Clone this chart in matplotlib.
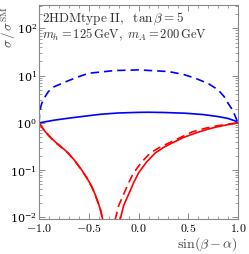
import numpy as np
import matplotlib.pyplot as plt
from matplotlib.ticker import LogLocator, MultipleLocator, NullFormatter, FuncFormatter

plt.rcParams['mathtext.fontset'] = 'cm'
plt.rcParams['font.family'] = 'serif'
plt.rcParams['font.serif'] = ['DejaVu Serif']

# blue: solid / dashed
x_bs = [-1.0, -0.85, -0.7, -0.5, -0.37, -0.2, 0.0, 0.1, 0.25, 0.47, 0.65, 0.8, 0.9, 0.97, 1.0]
y_bs = [1.0, 1.14, 1.26, 1.42, 1.53, 1.62, 1.67, 1.68, 1.66, 1.6, 1.5, 1.36, 1.24, 1.1, 1.0]

x_bd = [-1.0, -0.995, -0.985, -0.973, -0.95, -0.907, -0.85, -0.706, -0.6, -0.504, -0.24, 0.0,
        0.3, 0.45, 0.57, 0.7, 0.8, 0.86, 0.9, 0.95, 0.987, 1.0]
y_bd = [1.0, 1.6, 2.1, 2.6, 3.3, 4.6, 5.8, 7.8, 9.5, 11.2, 12.8, 13.2,
        12.2, 10.6, 8.8, 6.8, 5.0, 3.6, 2.6, 1.8, 1.15, 1.0]

# red solid: left and right branch
x_rsl = [-1.0, -0.97, -0.94, -0.89, -0.84, -0.77, -0.706, -0.64, -0.571, -0.52, -0.47, -0.435, -0.404, -0.38, -0.36]
y_rsl = [1.0, 0.81, 0.66, 0.51, 0.40, 0.302, 0.229, 0.158, 0.101, 0.069, 0.045, 0.030, 0.020, 0.0138, 0.0089]
x_rsr = [-0.186, -0.15, -0.103, -0.05, -0.002, 0.08, 0.166, 0.25, 0.334, 0.45, 0.568, 0.7, 0.8, 0.9, 1.0]
y_rsr = [0.0089, 0.0178, 0.030, 0.054, 0.0865, 0.148, 0.229, 0.302, 0.372, 0.49, 0.605, 0.74, 0.835, 0.92, 1.0]

# red dashed
x_rdl = [-1.0, -0.97, -0.94, -0.89, -0.84, -0.77, -0.706, -0.64, -0.571, -0.52, -0.47, -0.435, -0.404, -0.38, -0.36]
y_rdl = [1.0, 0.80, 0.65, 0.50, 0.39, 0.297, 0.226, 0.156, 0.099, 0.068, 0.044, 0.0295, 0.0197, 0.0136, 0.0088]
x_rdr = [-0.236, -0.2, -0.153, -0.1, -0.052, 0.03, 0.116, 0.21, 0.30, 0.42, 0.535, 0.67, 0.78, 0.9, 1.0]
y_rdr = [0.0089, 0.0178, 0.030, 0.054, 0.0865, 0.148, 0.229, 0.302, 0.372, 0.49, 0.64, 0.77, 0.86, 0.94, 1.0]

fig = plt.figure(figsize=(2.49, 2.54), dpi=100)
ax = fig.add_axes([0.157, 0.138, 0.799, 0.842])

dash = (0, (5, 3))
ax.plot(x_bs, y_bs, color='blue', lw=1.2)
ax.plot(x_bd, y_bd, color='blue', lw=1.2, ls=dash)
ax.plot(x_rsl, y_rsl, color='red', lw=1.2)
ax.plot(x_rsr, y_rsr, color='red', lw=1.2)
ax.plot(x_rdl, y_rdl, color='red', lw=1.2, ls=dash)
ax.plot(x_rdr, y_rdr, color='red', lw=1.2, ls=dash)

ax.set_yscale('log')
ax.set_xlim(-1, 1)
ax.set_ylim(0.0093, 310)
ax.xaxis.set_major_locator(MultipleLocator(0.5))
ax.xaxis.set_minor_locator(MultipleLocator(0.1))
ax.xaxis.set_major_formatter(FuncFormatter(lambda v, p: r'$%.1f$' % v))
ax.yaxis.set_major_locator(LogLocator(base=10, numticks=10))
ax.yaxis.set_minor_locator(LogLocator(base=10, subs=np.arange(2, 10), numticks=20))
ax.yaxis.set_minor_formatter(NullFormatter())
ax.tick_params(which='both', direction='in', top=True, right=True, color='#777777')
ax.tick_params(axis='x', pad=2.5, labelsize=8.5)
ax.tick_params(axis='y', pad=1.5, labelsize=8)
ax.tick_params(which='major', length=4, width=0.6)
ax.tick_params(which='minor', length=2, width=0.5)
for s in ax.spines.values():
    s.set_color('#888888')
    s.set_linewidth(0.8)

ax.text(0.015, 0.975, r'$\mathrm{2HDMtype\ II,}\ \ \tan\beta=5$', transform=ax.transAxes,
        ha='left', va='top', fontsize=9.5, color='#333333')
ax.text(0.015, 0.9, r'$m_h=125\,\mathrm{GeV},\ m_A=200\,\mathrm{GeV}$', transform=ax.transAxes,
        ha='left', va='top', fontsize=9, color='#333333')

fig.text(0.035, 0.975, r'$\sigma\,/\,\sigma^{\mathrm{SM}}$', rotation=90, ha='center', va='top',
         fontsize=9.5, color='#444444')
fig.text(0.956, 0.002, r'$\sin(\beta-\alpha)$', ha='right', va='bottom', fontsize=10, color='#444444')

fig.savefig('out.png', dpi=100)
